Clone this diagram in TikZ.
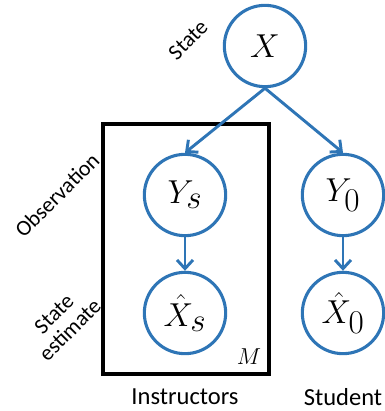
\documentclass[tikz,border=0pt]{standalone}
\usepackage{amsmath}
\usepackage{fontspec}
\setmainfont{Carlito}
\usepackage{tikz}
\usetikzlibrary{arrows.meta}
\definecolor{nodeblue}{RGB}{46,117,182}
\tikzset{
  var/.style={circle, draw=nodeblue, line width=2.3pt, minimum size=61pt, inner sep=0pt, font=\fontsize{34}{34}\selectfont},
  dep/.style={draw=nodeblue, line width=2.2pt, -{Straight Barb[length=6.5pt, width=12pt, line width=2.2pt]}},
  sidelabel/.style={rotate=45, align=center, font=\fontsize{16.5}{17}\selectfont},
  grouplabel/.style={font=\fontsize{18.4}{19}\selectfont}
}
\begin{document}
\begin{tikzpicture}[x=0.75pt, y=-0.75pt]
  \useasboundingbox (0,0) rectangle (385,411);
  % Plate over the instructors
  \draw[line width=2.6pt] (103,124) rectangle (269,374);
  % Variables
  \node[var] (X) at (265,46) {$X$};
  \node[var] (Ys) at (185,195) {$Y_s$};
  \node[var] (Y0) at (343,195) {$Y_0$};
  \node[var] (Xs) at (185,313) {$\hat{X}_s$};
  \node[var] (X0) at (343,313) {$\hat{X}_0$};
  % Dependencies
  \draw[dep] (X.south) -- (Ys.north);
  \draw[dep] (X.south) -- (Y0.north);
  \draw[dep] (Ys) -- (Xs);
  \draw[dep] (Y0) -- (X0);
  % Row labels
  \node[sidelabel] (lstate) at (188,40) {State};
  \node[sidelabel] (lobs) at (57,195) {Observation};
  \node[sidelabel] (lest) at (62,322) {State\\estimate};
  % Plate size and group names
  \node[font=\fontsize{19}{19}\selectfont] (M) at (249,357) {$M$};
  \node[grouplabel] (linstr) at (185,397) {Instructors};
  \node[grouplabel] (lstud) at (343,397) {Student};
\end{tikzpicture}
\end{document}
